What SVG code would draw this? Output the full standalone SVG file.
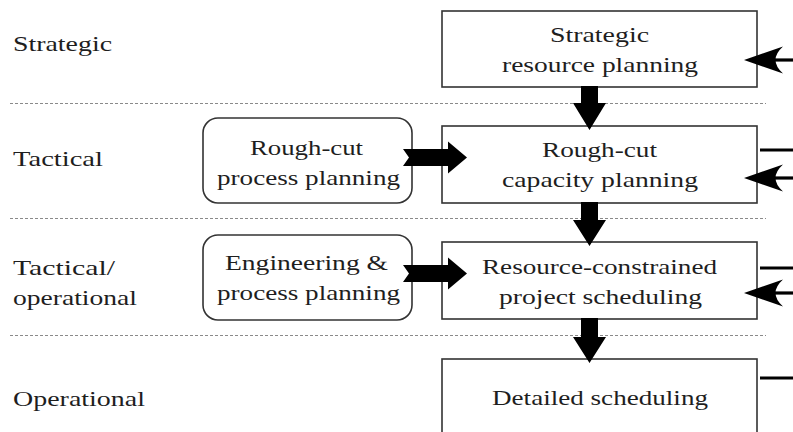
<svg xmlns="http://www.w3.org/2000/svg" width="793" height="432" viewBox="0 0 793 432">
  <style>
    text { font-family: "Liberation Serif", "DejaVu Serif", "Noto Serif", serif; font-size: 22px; fill: #1e1e1e; }
    .box { fill: #ffffff; stroke: #333333; stroke-width: 1.6; }
    .sep { stroke: #8a8a8a; stroke-width: 1.2; stroke-dasharray: 3 2; fill: none; }
    .flow { fill: #000000; stroke: none; }
    .feed { stroke: #000000; stroke-width: 3.2; fill: none; }
  </style>
  <defs>
    <!-- stealth-style head pointing left, tip at origin -->
    <path id="lhead" d="M0,0 L39,-13.5 Q24,0 39,13.5 Z"/>
  </defs>
  <rect width="793" height="432" fill="#ffffff"/>

  <!-- level separators -->
  <g id="separators">
    <line class="sep" x1="10" y1="103.5" x2="766" y2="103.5"/>
    <line class="sep" x1="10" y1="218.5" x2="766" y2="218.5"/>
    <line class="sep" x1="10" y1="335.5" x2="766" y2="335.5"/>
  </g>

  <!-- level labels -->
  <g id="levels">
    <text x="13" y="51" textLength="99" lengthAdjust="spacingAndGlyphs">Strategic</text>
    <text x="13" y="166" textLength="90" lengthAdjust="spacingAndGlyphs">Tactical</text>
    <text x="13" y="275" textLength="102" lengthAdjust="spacingAndGlyphs">Tactical/</text>
    <text x="13" y="305" textLength="124" lengthAdjust="spacingAndGlyphs">operational</text>
    <text x="13" y="406" textLength="132" lengthAdjust="spacingAndGlyphs">Operational</text>
  </g>

  <g id="strategic-resource-planning">
    <rect class="box" x="442" y="11" width="315" height="76"/>
    <text x="550" y="42" textLength="99" lengthAdjust="spacingAndGlyphs">Strategic</text>
    <text x="502" y="72" textLength="196" lengthAdjust="spacingAndGlyphs">resource planning</text>
  </g>

  <g id="rough-cut-capacity-planning">
    <rect class="box" x="442" y="126" width="315" height="77"/>
    <text x="542" y="157" textLength="115" lengthAdjust="spacingAndGlyphs">Rough-cut</text>
    <text x="502" y="187" textLength="196" lengthAdjust="spacingAndGlyphs">capacity planning</text>
  </g>

  <g id="resource-constrained-project-scheduling">
    <rect class="box" x="442" y="242" width="315" height="77"/>
    <text x="482" y="274" textLength="235" lengthAdjust="spacingAndGlyphs">Resource-constrained</text>
    <text x="499" y="304" textLength="203" lengthAdjust="spacingAndGlyphs">project scheduling</text>
  </g>

  <g id="detailed-scheduling">
    <rect class="box" x="442" y="359" width="315" height="80"/>
    <text x="492" y="405" textLength="216" lengthAdjust="spacingAndGlyphs">Detailed scheduling</text>
  </g>

  <g id="rough-cut-process-planning">
    <rect class="box" x="203" y="118" width="209" height="85" rx="15" ry="15"/>
    <text x="250" y="155" textLength="113" lengthAdjust="spacingAndGlyphs">Rough-cut</text>
    <text x="217" y="185" textLength="183" lengthAdjust="spacingAndGlyphs">process planning</text>
  </g>

  <g id="engineering-process-planning">
    <rect class="box" x="203" y="235" width="209" height="85" rx="15" ry="15"/>
    <text x="225" y="270" textLength="163" lengthAdjust="spacingAndGlyphs">Engineering &amp;</text>
    <text x="217" y="300" textLength="183" lengthAdjust="spacingAndGlyphs">process planning</text>
  </g>

  <g id="connectors">
    <!-- downward hierarchy arrows -->
    <polygon class="flow" points="581,86 598,86 598,103 606,103 589.5,130 573,103 581,103"/>
    <polygon class="flow" points="581,202 598,202 598,220 606,220 589.5,246 573,220 581,220"/>
    <polygon class="flow" points="581,318 598,318 598,337 606,337 589.5,363 573,337 581,337"/>
    <!-- planning inputs from the left -->
    <polygon class="flow" points="403,149 448,149 448,141.5 467,157.5 448,173.5 448,166 403,166 409,157.5"/>
    <polygon class="flow" points="403,265 448,265 448,257.5 467,273.5 448,289.5 448,282 403,282 409,273.5"/>
    <!-- feedback lines on the right -->
    <line class="feed" x1="770" y1="60" x2="793" y2="60"/>
    <use href="#lhead" x="744" y="60"/>
    <line class="feed" x1="760" y1="150" x2="793" y2="150"/>
    <line class="feed" x1="770" y1="178" x2="793" y2="178"/>
    <use href="#lhead" x="744" y="178"/>
    <line class="feed" x1="760" y1="268" x2="793" y2="268"/>
    <line class="feed" x1="770" y1="293" x2="793" y2="293"/>
    <use href="#lhead" x="744" y="293"/>
    <line class="feed" x1="760" y1="378" x2="793" y2="378"/>
  </g>
</svg>
